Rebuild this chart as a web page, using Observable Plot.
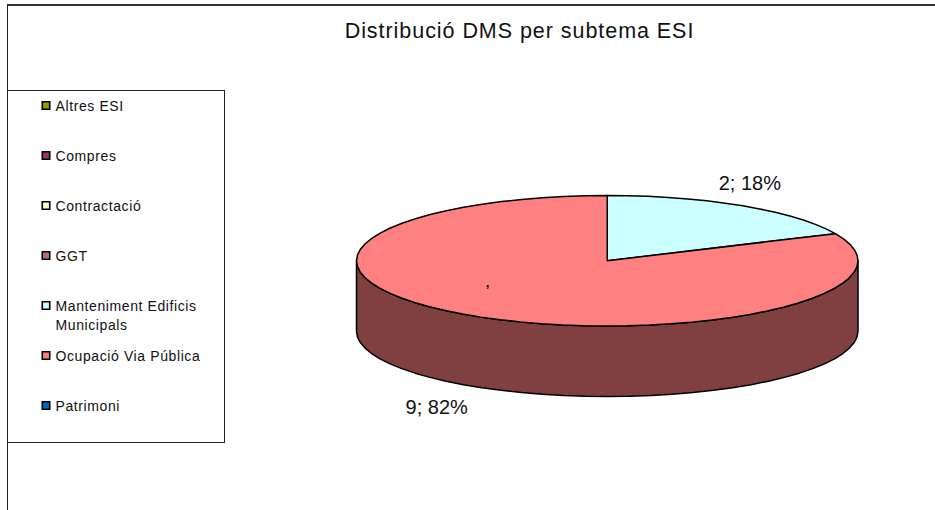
<!DOCTYPE html>
<html lang="ca">
<head>
<meta charset="utf-8">
<script src="https://cdn.jsdelivr.net/npm/d3@7"></script>
<script src="https://cdn.jsdelivr.net/npm/@observablehq/plot@0.6"></script>
<style>
  html, body { margin: 0; padding: 0; background: #fff; }
  #stage { position: relative; width: 935px; height: 510px; overflow: hidden; font-family: "Liberation Sans", Arial, sans-serif; color: #111; }
  #frame { position: absolute; left: 7px; top: 4px; width: 940px; height: 520px; border-left: 1.5px solid #222; border-top: 2px solid #333; box-sizing: border-box; }
  #legendBox { position: absolute; left: 7px; top: 90px; width: 218px; height: 353px; border: 1px solid #222; box-sizing: border-box; background: #fff; }
  #title { position: absolute; left: 0; top: 19px; width: 1039px; text-align: center; font-size: 21.5px; line-height: 24px; letter-spacing: 0.95px; }
  svg { position: absolute; left: 0; top: 0; background: transparent !important; }
</style>
</head>
<body>
<div id="stage">
  <div id="frame"></div>
  <div id="legendBox"></div>
  <div id="title"></div>
</div>
<script>
const chartTitle = "Distribució DMS per subtema ESI";
const categories = ["Altres ESI", "Compres", "Contractació", "GGT", "Manteniment Edificis\nMunicipals", "Ocupació Via Pública", "Patrimoni"];
const values = [0, 0, 0, 0, 2, 9, 0];
const colors = ["#999900", "#993366", "#FFFFCC", "#C07070", "#CCFFFF", "#FF8080", "#0066CC"];
const sideColor = "#804040";
const depth = 1.08; // pie thickness, in units of the tilted radius

document.getElementById("title").textContent = chartTitle;

const total = d3.sum(values);
const slices = [];
let acc = 0;
categories.forEach((cat, i) => {
  if (values[i] > 0) {
    slices.push({cat, value: values[i], start: acc, end: acc + values[i] / total});
    acc += values[i] / total;
  }
});
const onRim = (t) => ({x: Math.sin(2 * Math.PI * t), y: -Math.cos(2 * Math.PI * t)});
const steps = 72;

const topPoints = slices.flatMap((s) => {
  const n = Math.max(2, Math.ceil((s.end - s.start) * steps));
  return [{x: 0, y: 0, cat: s.cat},
    ...d3.range(n + 1).map((k) => ({...onRim(s.start + (s.end - s.start) * k / n), cat: s.cat}))];
});
const sideTop = d3.range(steps / 2 + 1).map((k) => onRim(0.25 + 0.5 * k / (steps / 2)));
const sidePoints = [...sideTop, ...sideTop.slice().reverse().map((p) => ({x: p.x, y: p.y + depth}))];

const mid = slices.map((s) => ({...onRim((s.start + s.end) / 2), label: `${s.value}; ${Math.round(s.value / total * 100)}%`, cat: s.cat}));

const pie = Plot.plot({
  width: 935, height: 510, margin: 0,
  x: {domain: [-1, 1], range: [356, 857.5], axis: null},
  y: {domain: [-1, 1], range: [195, 325.5], axis: null},
  color: {domain: categories, range: colors},
  marks: [
    Plot.line(sidePoints, {x: "x", y: "y", fill: sideColor, stroke: "#000", strokeWidth: 1.5, curve: "linear-closed"}),
    Plot.line(topPoints, {x: "x", y: "y", z: "cat", fill: "cat", stroke: "#000", strokeWidth: 1.5, curve: "linear-closed"}),
    Plot.text(mid.slice(0, 1), {x: "x", y: "y", text: "label", dx: 7, dy: -22, fontSize: 20, fill: "#111", fontFamily: "Liberation Sans"}),
    Plot.text(mid.slice(1), {x: "x", y: "y", text: "label", dx: -35, dy: 92, fontSize: 20, fill: "#111", fontFamily: "Liberation Sans"}),
    Plot.text(mid.slice(1), {x: "x", y: "y", text: () => ",", dx: 16, dy: -33, fontSize: 13, fontWeight: "bold", fill: "#111", fontFamily: "Liberation Sans"})
  ]
});
document.getElementById("stage").appendChild(pie);

const legend = Plot.plot({
  width: 935, height: 510, margin: 0,
  x: {domain: [0, 1], range: [45.5, 55], axis: null},
  y: {type: "point", domain: categories, range: [105, 405], padding: 0, axis: null},
  color: {domain: categories, range: colors},
  marks: [
    Plot.dot(categories, {x: 0, y: (d) => d, symbol: "square", r: 4.2, fill: (d) => d, stroke: "#000", strokeWidth: 1.6}),
    Plot.text(categories, {x: 1, y: (d) => d, text: (d) => d, textAnchor: "start", lineAnchor: "top", dy: -8, lineHeight: 1.35, fontSize: 14, fill: "#111", fontFamily: "Liberation Sans"})
  ]
});
legend.style.letterSpacing = "0.6px";
document.getElementById("stage").appendChild(legend);
</script>
</body>
</html>
